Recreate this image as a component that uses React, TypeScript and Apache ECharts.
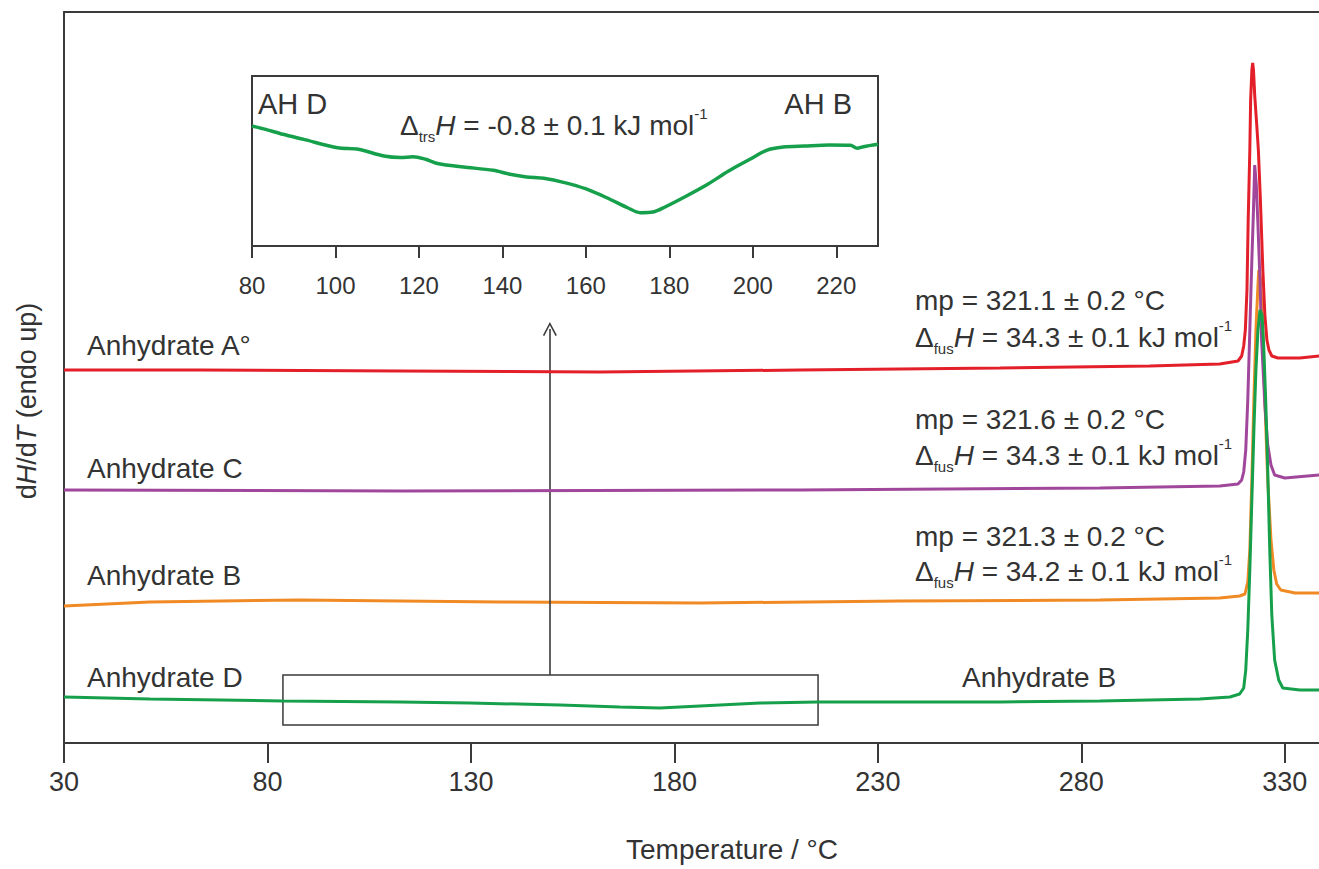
import React, { useEffect, useRef } from "react";
import * as echarts from "echarts";

// ---------- data (temperature / °C, dH/dT in arbitrary units) ----------
const mainTicks = [30, 80, 130, 180, 230, 280, 330];
const insetTicks = [80, 100, 120, 140, 160, 180, 200, 220];

const anhydrateA: [number, number][] = [
  [30, 373], [63.4, 373], [112.6, 372], [161.7, 371], [210.8, 373], [260, 375], [296.8, 377],
  [314, 379], [318.5, 382], [319.4, 387], [319.9, 397], [320.3, 413], [320.7, 453], [321.0, 523],
  [321.4, 593], [321.6, 643], [321.9, 673], [322.1, 680], [322.3, 673], [322.6, 648], [323.1, 618],
  [323.5, 593], [324.0, 543], [324.6, 473], [325.1, 428], [325.6, 403], [326.1, 393], [326.8, 387],
  [328.3, 385], [333.7, 385], [338.4, 387],
];

const anhydrateC: [number, number][] = [
  [30, 253], [112.6, 252], [210.8, 253], [284.5, 255], [314.0, 257], [318.5, 259], [319.4, 263],
  [319.9, 271], [320.4, 293], [320.9, 343], [321.4, 413], [321.9, 483], [322.3, 533], [322.6, 578],
  [323.0, 558], [323.4, 518], [323.9, 463], [324.3, 403], [325.1, 338], [325.8, 298], [326.6, 278],
  [327.5, 268], [330.0, 265], [338.4, 268],
];

const anhydrateB: [number, number][] = [
  [30, 137], [51.1, 141], [88.0, 143], [137.2, 141], [186.3, 140], [235.4, 142], [284.5, 143],
  [314.0, 145], [318.9, 147], [320.2, 149], [320.9, 161], [321.4, 193], [321.9, 263], [322.4, 343],
  [322.9, 413], [323.4, 458], [323.6, 473], [324.0, 465], [324.5, 423], [325.1, 343], [325.8, 263],
  [326.6, 203], [327.3, 173], [328.0, 159], [329.0, 153], [332.5, 150], [338.4, 150],
];

const anhydrateD: [number, number][] = [
  [30, 46], [51.1, 44], [83.8, 42], [112.6, 41], [129.8, 40], [151.9, 38], [166.6, 36], [176.4, 35],
  [186.3, 37], [201.0, 40], [215.3, 41], [260.0, 41], [284.5, 42], [309.1, 44], [316.5, 46],
  [318.9, 49], [319.9, 55], [320.4, 73], [320.9, 113], [321.4, 173], [321.9, 243], [322.4, 313],
  [322.9, 373], [323.4, 413], [323.9, 433], [324.4, 428], [324.8, 398], [325.3, 343], [325.8, 273],
  [326.3, 193], [326.8, 128], [327.5, 83], [328.5, 63], [329.5, 55], [333.7, 53], [338.4, 53],
];

// inset: AH D -> AH B transition (relative units, 0-100 of inset height)
const insetCurve: [number, number][] = [
  [80, 70.6], [83.3, 68.6], [87.4, 65.7], [92.4, 62.7], [100.5, 57.8], [105.5, 56.9], [111.6, 52.9],
  [115.6, 52.0], [118.6, 52.5], [121.6, 51.0], [124.7, 48.4], [130.7, 46.5], [137.8, 44.5],
  [141.8, 42.2], [145.8, 40.6], [149.9, 39.8], [154.9, 37.3], [159.9, 33.7], [165.0, 28.4],
  [170.0, 22.5], [173.0, 19.6], [176.1, 20.0], [179.1, 23.1], [184.1, 29.4], [189.2, 36.3],
  [194.2, 44.1], [199.3, 51.0], [203.3, 56.3], [207.3, 58.2], [212.4, 58.8], [218.4, 59.4],
  [223.4, 59.2], [225.0, 57.5], [226.5, 58.4], [230, 59.8],
];

// zoomed region box and arrow (data coordinates)
const boxRange = { x0: 83.8, x1: 215.3, y0: 18, y1: 68 };
const arrowX = 149.4;
const arrowTop = 414;

const FONT = '"Liberation Sans", Arial, Helvetica, sans-serif';
const TXT = "#333333";
const AXIS = "#3a3a3a";
const RED = "#e3202a";
const PURPLE = "#a0479b";
const ORANGE = "#f08a24";
const GREEN = "#16a04b";

function rich(size: number) {
  const sub = Math.round(size * 0.55);
  return {
    n: { fontSize: size, fontFamily: FONT, fill: TXT, color: TXT, lineHeight: size + 10 },
    i: { fontSize: size, fontFamily: FONT, fill: TXT, color: TXT, fontStyle: "italic", lineHeight: size + 10 },
    sub: { fontSize: sub, fontFamily: FONT, fill: TXT, color: TXT, verticalAlign: "bottom", lineHeight: sub },
    sup: { fontSize: sub, fontFamily: FONT, fill: TXT, color: TXT, verticalAlign: "top", lineHeight: sub },
  };
}

function txt(text: string, x: number, y: number, size = 27, align = "left", extra: any = {}) {
  return {
    type: "text",
    x,
    y,
    z: 100,
    ...extra,
    style: {
      text,
      rich: rich(size),
      fontSize: size,
      fontFamily: FONT,
      fill: TXT,
      align,
      verticalAlign: "middle",
    },
  };
}

export default function App() {
  const ref = useRef<HTMLDivElement>(null);

  useEffect(() => {
    document.body.style.margin = "0";
    if (!ref.current) return;
    const chart = echarts.init(ref.current, undefined, { renderer: "svg" });

    const lineSeries = (name: string, data: [number, number][], color: string, extra: any = {}) => ({
      name,
      type: "line",
      xAxisIndex: 0,
      yAxisIndex: 0,
      data,
      symbol: "none",
      showSymbol: false,
      smooth: false,
      lineStyle: { color, width: 3 },
      itemStyle: { color },
      z: 3,
      ...extra,
    });

    const option: any = {
      animation: false,
      backgroundColor: "#ffffff",
      grid: [
        { left: 64, top: 12, right: 0, height: 731, show: false },
        {
          left: 252, top: 76, width: 626, height: 170,
          show: true, borderColor: AXIS, borderWidth: 2, backgroundColor: "#ffffff",
        },
      ],
      xAxis: [
        {
          gridIndex: 0, type: "value", min: 30, max: 338.4, position: "bottom",
          axisLine: { show: true, lineStyle: { color: AXIS, width: 2 } },
          splitLine: { show: false },
          axisTick: { show: true, length: 20, customValues: mainTicks, lineStyle: { color: AXIS, width: 2 } },
          axisLabel: { show: true, customValues: mainTicks, fontSize: 27, fontFamily: FONT, color: TXT, margin: 25 },
        },
        {
          gridIndex: 1, type: "value", min: 80, max: 230,
          axisLine: { show: false },
          splitLine: { show: false },
          axisTick: { show: true, length: 12, customValues: insetTicks, lineStyle: { color: AXIS, width: 2 } },
          axisLabel: { show: true, customValues: insetTicks, fontSize: 24, fontFamily: FONT, color: TXT, margin: 27 },
        },
        {
          gridIndex: 0, type: "value", min: 30, max: 338.4, position: "top",
          axisLine: { show: true, lineStyle: { color: AXIS, width: 2 } },
          axisTick: { show: false }, axisLabel: { show: false }, splitLine: { show: false },
        },
      ],
      yAxis: [
        {
          gridIndex: 0, type: "value", min: 0, max: 731, position: "left",
          axisLine: { show: true, lineStyle: { color: AXIS, width: 2 } },
          axisTick: { show: false }, axisLabel: { show: false }, splitLine: { show: false },
        },
        { gridIndex: 1, type: "value", min: 0, max: 100, show: false },
      ],
      series: [
        lineSeries("Anhydrate A°", anhydrateA, RED, { z: 6 }),
        lineSeries("Anhydrate C", anhydrateC, PURPLE, { z: 5 }),
        lineSeries("Anhydrate B", anhydrateB, ORANGE, { z: 4 }),
        lineSeries("Anhydrate D", anhydrateD, GREEN, {
          z: 7,
          markArea: {
            silent: true,
            itemStyle: { color: "rgba(0,0,0,0)", borderColor: AXIS, borderWidth: 1.5 },
            label: { show: false },
            data: [[{ coord: [boxRange.x0, boxRange.y0] }, { coord: [boxRange.x1, boxRange.y1] }]],
          },
          markLine: {
            silent: true,
            symbol: ["none", "path://M0,14 L7,0 L14,14 L12.6,14.8 L7,3.4 L1.4,14.8 Z"],
            symbolSize: [14, 14],
            label: { show: false },
            lineStyle: { color: AXIS, width: 1.6, type: "solid" },
            data: [[{ coord: [arrowX, boxRange.y1] }, { coord: [arrowX, arrowTop] }]],
          },
        }),
        {
          name: "inset",
          type: "line",
          xAxisIndex: 1,
          yAxisIndex: 1,
          data: insetCurve,
          symbol: "none",
          showSymbol: false,
          smooth: 0.3,
          lineStyle: { color: GREEN, width: 3.5 },
          z: 10,
        },
      ],
      graphic: [
        txt("{n|Anhydrate A°}", 87, 345, 28),
        txt("{n|Anhydrate C}", 87, 468, 28),
        txt("{n|Anhydrate B}", 87, 575, 28),
        txt("{n|Anhydrate D}", 87, 677, 28),
        txt("{n|Anhydrate B}", 962, 677, 28),
        txt("{n|mp = 321.1 ± 0.2 °C}", 915, 300, 28),
        txt("{n|Δ}{sub|fus}{i|H}{n| = 34.3 ± 0.1 kJ mol}{sup|-1}", 915, 337, 28),
        txt("{n|mp = 321.6 ± 0.2 °C}", 915, 419, 28),
        txt("{n|Δ}{sub|fus}{i|H}{n| = 34.3 ± 0.1 kJ mol}{sup|-1}", 915, 455, 28),
        txt("{n|mp = 321.3 ± 0.2 °C}", 915, 536, 28),
        txt("{n|Δ}{sub|fus}{i|H}{n| = 34.2 ± 0.1 kJ mol}{sup|-1}", 915, 571, 28),
        txt("{n|AH D}", 258, 104, 29),
        txt("{n|AH B}", 852, 104, 29, "right"),
        txt("{n|Δ}{sub|trs}{i|H}{n| = -0.8 ± 0.1 kJ mol}{sup|-1}", 400, 125, 28),
        txt("{n|Temperature / °C}", 732, 849, 28, "center"),
        txt("{n|d}{i|H}{n|/d}{i|T}{n| (endo up)}", 27, 401, 27, "center", { rotation: Math.PI / 2 }),
      ],
    };

    chart.setOption(option);
    return () => chart.dispose();
  }, []);

  return <div ref={ref} style={{ width: 1319, height: 869 }} />;
}
